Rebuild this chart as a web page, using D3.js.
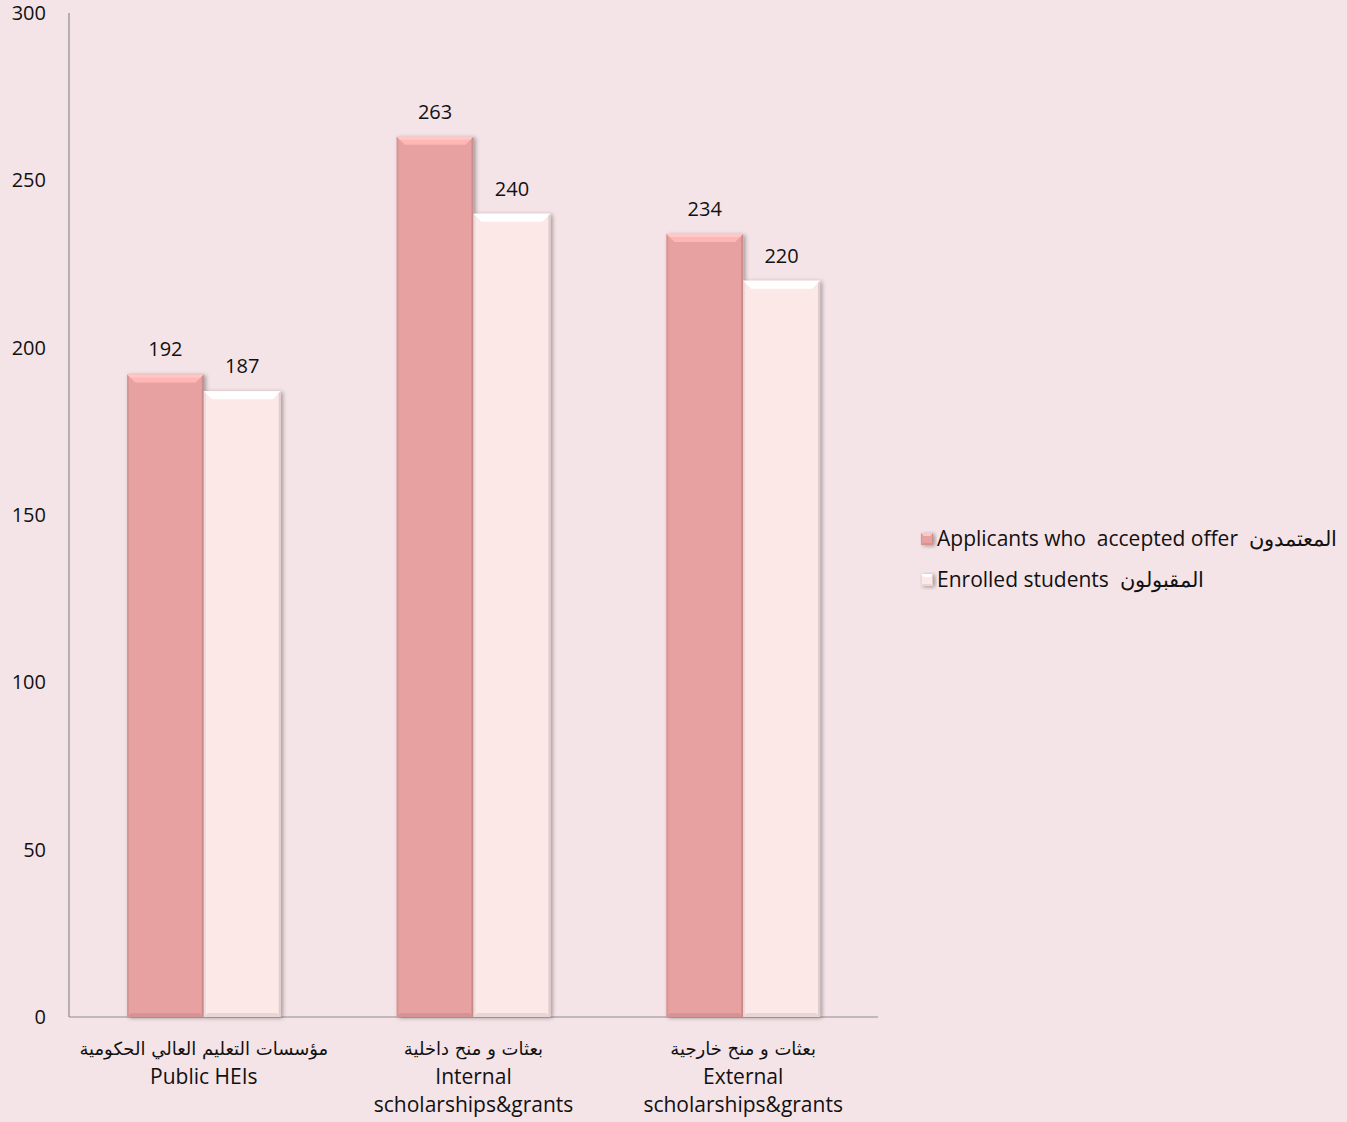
<!DOCTYPE html>
<html><head><meta charset="utf-8">
<script src="https://cdn.jsdelivr.net/npm/d3@7"></script>
<style>
body{margin:0;background:#f5e4e7;}
svg{display:block;}
text{font-family:"Open Sans",Lato,sans-serif;fill:#111;white-space:pre;}
</style></head>
<body>
<svg id="c" width="1347" height="1122"></svg>
<script>
const categoriesAr = ["مؤسسات التعليم العالي الحكومية", "بعثات و منح داخلية", "بعثات و منح خارجية"];
const categoriesEn = [["Public HEIs"], ["Internal", "scholarships&grants"], ["External", "scholarships&grants"]];
const seriesNames = ["Applicants who  accepted offer  المعتمدون", "Enrolled students  المقبولون"];
const accepted = [192, 263, 234];
const enrolled = [187, 240, 220];
const yTicks = [0, 50, 100, 150, 200, 250, 300];

const colors = ["#e6a1a0", "#fde8e8"];
const svg = d3.select("#c");
const m = {l: 69, r: 469, t: 13, b: 105};
const W = 1347, H = 1122;
const x = d3.scaleBand().domain(d3.range(3)).range([m.l, W - m.r]).paddingInner(0.43).paddingOuter(0.215);
const y = d3.scaleLinear().domain([0, 300]).range([H - m.b, m.t]);
const bw = x.bandwidth() / 2;

// axes
svg.append("line").attr("x1", m.l).attr("x2", m.l).attr("y1", y(300)).attr("y2", y(0)).attr("stroke", "#8c8c8c").attr("stroke-width", 1.2);
svg.append("line").attr("x1", m.l).attr("x2", W - m.r).attr("y1", y(0)).attr("y2", y(0)).attr("stroke", "#8c8c8c").attr("stroke-width", 1.2);
svg.selectAll(".yt").data(yTicks).enter().append("text")
  .attr("x", 46).attr("y", d => y(d)).attr("dy", "0.35em").attr("text-anchor", "end")
  .style("font-size", "20px").text(d => d);

const defs = svg.append("defs");
const f = defs.append("filter").attr("id", "sh").attr("x", "-20%").attr("y", "-20%").attr("width", "150%").attr("height", "150%");
f.append("feGaussianBlur").attr("in", "SourceAlpha").attr("stdDeviation", 2);
f.append("feOffset").attr("dx", 2).attr("dy", 1).attr("result", "o");
f.append("feComponentTransfer").append("feFuncA").attr("type", "linear").attr("slope", 0.35);
const fm = f.append("feMerge"); fm.append("feMergeNode"); fm.append("feMergeNode").attr("in", "SourceGraphic");

function bar(g, x0, top, w, bot, col, bv) {
  const h = bot - top;
  const c = d3.color(col);
  const e = Math.max(1, bv / 4);
  const gg = g.append("g").attr("filter", "url(#sh)");
  gg.append("rect").attr("x", x0).attr("y", top).attr("width", w).attr("height", h).attr("fill", col);
  gg.append("polygon").attr("points", [[x0, top], [x0 + w, top], [x0 + w - bv, top + bv], [x0 + bv, top + bv]].join(" "))
    .attr("fill", c.brighter(0.35));
  gg.append("polygon").attr("points", [[x0, top], [x0 + w, top], [x0 + w - 3, top + 3], [x0 + 3, top + 3]].join(" "))
    .attr("fill", "#fff").attr("opacity", 0.25);
  gg.append("polygon").attr("points", [[x0, top], [x0 + e, top + e], [x0 + e, bot - e], [x0, bot]].join(" "))
    .attr("fill", c.darker(0.4)).attr("opacity", 0.5);
  gg.append("polygon").attr("points", [[x0 + w, top], [x0 + w - e, top + e], [x0 + w - e, bot - e], [x0 + w, bot]].join(" "))
    .attr("fill", c.darker(0.6)).attr("opacity", 0.6);
  gg.append("polygon").attr("points", [[x0, bot], [x0 + w, bot], [x0 + w - 2 * e, bot - 2 * e], [x0 + 2 * e, bot - 2 * e]].join(" "))
    .attr("fill", c.darker(0.5)).attr("opacity", 0.5);
}

const series = [accepted, enrolled];
series.forEach((vals, s) => {
  vals.forEach((v, i) => {
    const x0 = x(i) + s * bw;
    bar(svg, x0, y(v), bw, y(0), colors[s], 8);
    svg.append("text").attr("x", x0 + bw / 2).attr("y", y(v) - 18).attr("text-anchor", "middle")
      .style("font-size", "20px").text(v);
  });
});

// category labels
categoriesAr.forEach((ar, i) => {
  const cx = x(i) + x.bandwidth() / 2;
  const t = svg.append("text").attr("x", cx).attr("y", H - m.b + 38).attr("text-anchor", "middle").style("font-size", "21px");
  t.append("tspan").attr("x", cx).style("font-family", "'DejaVu Sans',sans-serif").style("font-size", "18px").text(ar);
  categoriesEn[i].forEach((ln) => {
    t.append("tspan").attr("x", cx).attr("dy", 28.5).text(ln);
  });
});

// legend
seriesNames.forEach((n, s) => {
  const ly = 539 + s * 41;
  bar(svg, 921, ly - 6, 12, ly + 6, colors[s], 3);
  svg.append("text").attr("x", 937).attr("y", ly).attr("dy", "0.35em").style("font-size", "21px").text(n);
});
</script>
</body></html>
